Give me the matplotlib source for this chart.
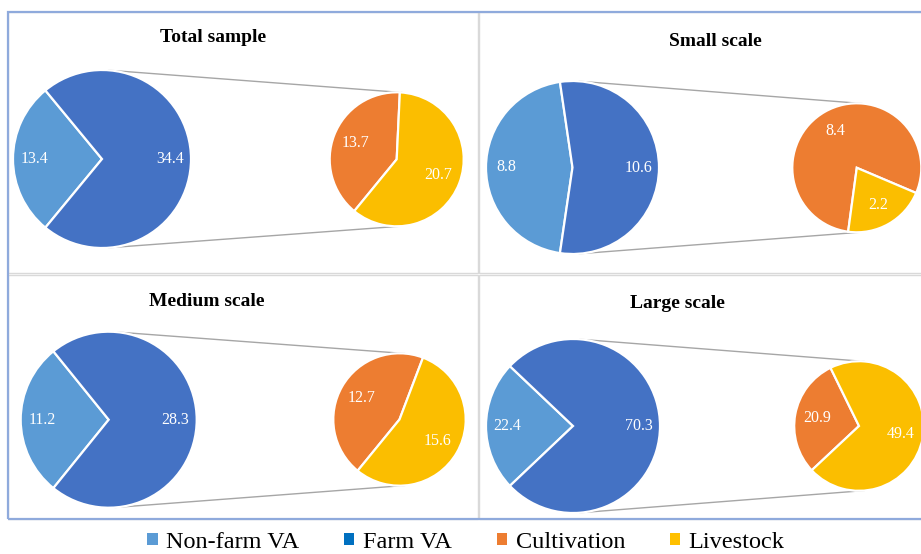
import matplotlib
matplotlib.use("Agg")
import matplotlib.pyplot as plt
from matplotlib.patches import Rectangle, Patch
import numpy as np

# ---------------- data ----------------
panel_titles = ["Total sample", "Small scale", "Medium scale", "Large scale"]
main_labels = ["Non-farm VA", "Farm VA"]
sub_labels = ["Cultivation", "Livestock"]
nonfarm_va = [13.4, 8.8, 11.2, 22.4]
farm_va = [34.4, 10.6, 28.3, 70.3]
cultivation = [13.7, 8.4, 12.7, 20.9]
livestock = [20.7, 2.2, 15.6, 49.4]

# ---------------- style / layout (image pixel coords, y down) ----------------
W, H = 921, 554
c_nonfarm, c_farm, c_cult, c_live = "#5B9BD5", "#4472C4", "#ED7D31", "#FBBE00"
leg_colors = ["#5B9BD5", "#0070C0", "#ED7D31", "#FFC000"]
main_centers = [(102, 159), (572.5, 167.5), (108.7, 419.7), (573, 426)]
main_r = [89, 86.5, 88, 87]
sub_centers = [(396.7, 159.3), (856.8, 167.8), (399.5, 419.5), (859, 426)]
sub_r = [67, 64.5, 66.2, 64.8]
sub_start = [87.3, 337.0, 69.2, 116.1]
title_pos = [(213, 37), (715, 42), (207, 301), (677, 303)]
panel_boxes = [(8, 12, 478, 273), (479, 12, 930, 273),
               (8, 275, 478, 519), (479, 275, 930, 519)]

FONT = "Liberation Serif"

fig = plt.figure(figsize=(W / 100, H / 100), dpi=100)
ax = fig.add_axes([0, 0, 1, 1])


def Y(y):
    return H - y


# panel frames
for (x0, y0, x1, y1) in panel_boxes:
    ax.add_patch(Rectangle((x0, Y(y1)), x1 - x0, y1 - y0, fill=False,
                           edgecolor="#D9D9D9", linewidth=1.0, zorder=0))
# outer blue frame
ax.add_patch(Rectangle((8, Y(519)), 930 - 8, 519 - 12, fill=False,
                       edgecolor="#8FAADC", linewidth=1.6, zorder=1))

wp = dict(edgecolor="white", linewidth=1.6)
tp = dict(color="white", fontsize=11.5, family=FONT)

for i in range(4):
    mv = [nonfarm_va[i], farm_va[i]]
    sv = [cultivation[i], livestock[i]]
    mtot = sum(mv)
    stot = sum(sv)
    mcx, mcy = main_centers[i]
    scx, scy = sub_centers[i]
    r1, r2 = main_r[i], sub_r[i]

    span = mv[0] / mtot * 360
    ax.pie(mv, colors=[c_nonfarm, c_farm], startangle=180 - span / 2,
           center=(mcx, Y(mcy)), radius=r1, wedgeprops=wp,
           autopct=lambda p, t=mtot: f"{p * t / 100:.1f}", pctdistance=0.76,
           textprops=tp)
    ax.pie(sv, colors=[c_cult, c_live], startangle=sub_start[i],
           center=(scx, Y(scy)), radius=r2, wedgeprops=wp,
           autopct=lambda p, t=stot: f"{p * t / 100:.1f}", pctdistance=0.66,
           textprops=tp)

    # connector lines (external tangents)
    d = scx - mcx
    phi = np.arcsin((r1 - r2) / d)
    for sgn in (1, -1):
        p1 = (mcx + r1 * np.sin(phi), Y(mcy) + sgn * r1 * np.cos(phi))
        p2 = (scx + r2 * np.sin(phi), Y(scy) + sgn * r2 * np.cos(phi))
        ax.plot([p1[0], p2[0]], [p1[1], p2[1]], color="#A6A6A6",
                linewidth=1.0, zorder=0.5)

    tx, ty = title_pos[i]
    ax.text(tx, Y(ty), panel_titles[i], ha="center", va="center",
            fontsize=14, fontweight="bold", family=FONT, color="black")

handles = [Patch(facecolor=c, edgecolor="none", label=l)
           for c, l in zip(leg_colors, main_labels + sub_labels)]
leg = ax.legend(handles=handles, loc="center", ncol=4,
                bbox_to_anchor=(466 / W, (H - 542) / H),
                bbox_transform=fig.transFigure, frameon=False,
                prop=dict(family=FONT, size=17.5), handlelength=0.42,
                handleheight=0.42, handletextpad=0.35, columnspacing=1.85,
                borderpad=0, borderaxespad=0)

ax.set_xlim(0, W)
ax.set_ylim(0, H)
ax.set_aspect("equal")
ax.axis("off")

fig.savefig("out.png", dpi=100)
